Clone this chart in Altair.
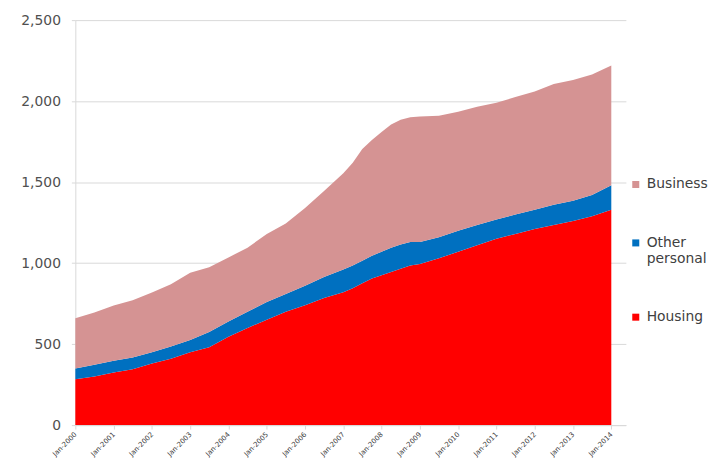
import altair as alt
import pandas as pd

dates = [
    "2000-01-01", "2000-07-01", "2001-01-01", "2001-07-01", "2002-01-01", "2002-07-01",
    "2003-01-01", "2003-07-01", "2004-01-01", "2004-07-01", "2005-01-01", "2005-07-01",
    "2006-01-01", "2006-07-01", "2007-01-01", "2007-04-01", "2007-07-01", "2007-10-01",
    "2008-01-01", "2008-04-01", "2008-07-01", "2008-10-01", "2009-01-01", "2009-07-01",
    "2010-01-01", "2010-07-01", "2011-01-01", "2011-07-01", "2012-01-01", "2012-07-01",
    "2013-01-01", "2013-07-01", "2014-01-01",
]
housing = [
    283, 300, 325, 345, 380, 410,
    450, 480, 545, 600, 650, 700,
    740, 785, 820, 845, 875, 905,
    925, 945, 965, 985, 995, 1030,
    1070, 1110, 1150, 1180, 1210, 1235,
    1260, 1290, 1330,
]
other_personal = [
    67, 72, 73, 73, 70, 75,
    75, 95, 95, 100, 110, 110,
    120, 130, 140, 140, 140, 140,
    145, 150, 150, 145, 135, 130,
    130, 125, 120, 120, 120, 125,
    125, 130, 150,
]
business = [
    310, 323, 340, 352, 368, 385,
    415, 400, 395, 395, 420, 435,
    480, 530, 595, 635, 690, 715,
    740, 760, 770, 770, 775, 750,
    735, 730, 720, 725, 730, 745,
    745, 745, 740,
]

series_names = ["Business", "Other personal", "Housing"]
series_colors = ["#D59393", "#0070C0", "#FF0000"]
stack_rank = {"Housing": 0, "Other personal": 1, "Business": 2}
y_ticks = [0, 500, 1000, 1500, 2000, 2500]
tick_years = list(range(2000, 2015))

rows = []
for d, h, o, b in zip(dates, housing, other_personal, business):
    for name, v in (("Housing", h), ("Other personal", o), ("Business", b)):
        rows.append({"date": d, "series": name, "value": v, "rank": stack_rank[name]})
df = pd.DataFrame(rows)

FONT = "DejaVu Sans"

chart = alt.Chart(df).mark_area(interpolate="linear").encode(
    x=alt.X(
        "date:T",
        scale=alt.Scale(
            type="utc",
            nice=False,
            domain=[alt.DateTime(year=2000, month=1, date=1, utc=True),
                    alt.DateTime(year=2014, month=5, date=20, utc=True)],
        ),
        axis=alt.Axis(
            title=None,
            values=[alt.DateTime(year=y, month=1, date=1, utc=True) for y in tick_years],
            labelExpr="utcFormat(datum.value, '%b-%Y')",
            labelAngle=315,
            labelAlign="right",
            labelBaseline="middle",
            labelFontSize=7,
            labelFont=FONT,
            labelColor="#404040",
            labelPadding=4,
            grid=False,
            domainColor="#D9D9D9",
            tickColor="#D9D9D9",
            tickSize=4,
        ),
    ),
    y=alt.Y(
        "value:Q",
        stack="zero",
        scale=alt.Scale(domain=[0, 2500], nice=False),
        axis=alt.Axis(
            title=None,
            values=y_ticks,
            format=",d",
            labelFontSize=14,
            labelFont=FONT,
            labelColor="#505050",
            labelPadding=11,
            gridColor="#D9D9D9",
            domainColor="#D9D9D9",
            tickColor="#D9D9D9",
            tickSize=4,
        ),
    ),
    color=alt.Color(
        "series:N",
        scale=alt.Scale(domain=series_names, range=series_colors),
        legend=alt.Legend(
            title=None,
            orient="none",
            legendX=559,
            legendY=159,
            symbolType="square",
            symbolSize=50,
            symbolStrokeWidth=0,
            labelFontSize=14,
            labelFont=FONT,
            labelColor="#404040",
            labelOffset=4,
            labelLimit=200,
            rowPadding=45,
            padding=0,
            labelExpr="datum.label == 'Other personal' ? ['Other', 'personal'] : datum.label",
        ),
    ),
    order=alt.Order("rank:Q", sort="ascending"),
).properties(
    width=556,
    height=409,
    autosize=alt.AutoSizeParams(type="none"),
    padding={"left": 68, "top": 10, "right": 88, "bottom": 34},
).configure_view(stroke=None)

chart.save("out.html", embed_options={"renderer": "svg", "actions": False})
